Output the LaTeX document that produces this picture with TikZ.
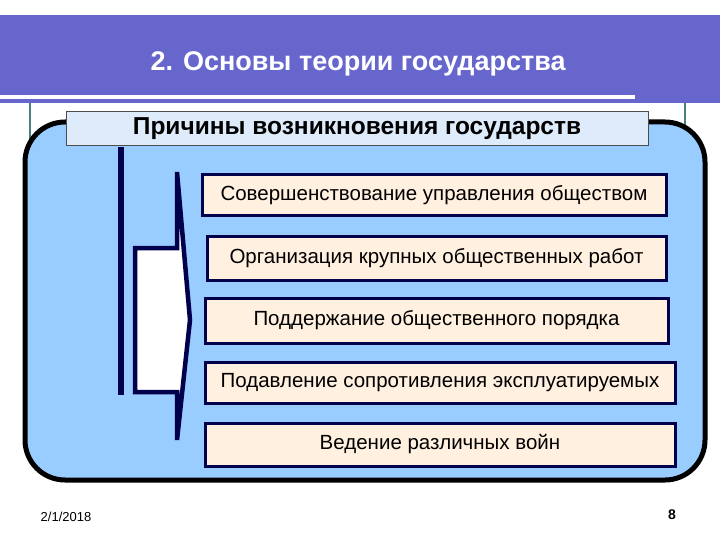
\documentclass[tikz,border=0pt]{standalone}
\usepackage{fontspec}
\setmainfont{Liberation Sans}
\begin{document}
\begin{tikzpicture}[x=1pt,y=-1pt,
 item/.style={draw=blue!30!black,line width=3pt,fill=orange!12,inner sep=0pt,font=\fontsize{20.5}{24}\selectfont},
 navy/.style={draw=blue!30!black,line width=6pt}]
\useasboundingbox (0,0) rectangle (720,540);
\fill[white] (0,0) rectangle (720,540);
\fill[fill={rgb,255:red,102;green,102;blue,204}] (0,15) rectangle (720,103);
\draw[white,line width=4pt] (0,97) -- (635,97);
\node[white,font=\bfseries\fontsize{27}{30}\selectfont] (t) at (358,64) {2. Основы теории государства};
\draw[gray!60!teal,line width=2pt] (30,103) -- (30,140) (685,103) -- (685,140);
\draw[line width=5pt,fill={rgb,255:red,153;green,204;blue,255},rounded corners=40pt] (25,122) rectangle (705,480);
\node[draw=black!70,line width=1pt,fill={rgb,255:red,221;green,235;blue,250},minimum width=582pt,minimum height=34pt,font=\bfseries\fontsize{24.5}{28}\selectfont] (h) at (357,129) {Причины возникновения государств};
\draw[navy] (121,147) -- (121,395);
\draw[navy,fill=white,line width=4.5pt] (177,172) -- (177,248) -- (135,248) -- (135,392) -- (177,392) -- (177,440) -- (190,320) -- cycle;
\node[item,minimum width=464pt,minimum height=41pt] (a) at (434,195.5) {Совершенствование управления обществом};
\node[item,minimum width=459pt,minimum height=44pt] (b) at (436.5,258) {Организация крупных общественных работ};
\node[item,minimum width=463pt,minimum height=45pt] (c) at (436.5,320.5) {Поддержание общественного порядка};
\node[item,minimum width=470pt,minimum height=41pt] (d) at (440,382.5) {Подавление сопротивления эксплуатируемых};
\node[item,minimum width=470pt,minimum height=43pt] (e) at (440,444.5) {Ведение различных войн};
\node[font=\fontsize{13}{15}\selectfont] (dt) at (66,517) {2/1/2018};
\node[font=\bfseries\fontsize{14}{16}\selectfont] (pg) at (672,515) {8};
\end{tikzpicture}
\end{document}
